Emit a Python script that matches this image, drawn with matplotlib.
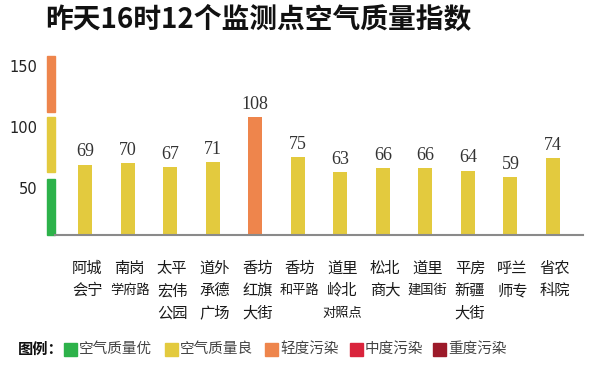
import matplotlib.pyplot as plt
import matplotlib.transforms as mtransforms
from matplotlib.patches import Rectangle

plt.rcParams['font.family'] = ['Noto Sans CJK SC', 'DejaVu Sans']

# data
stations = [
    ["阿城", "会宁"], ["南岗", "学府路"], ["太平", "宏伟", "公园"],
    ["道外", "承德", "广场"], ["香坊", "红旗", "大街"], ["香坊", "和平路"],
    ["道里", "岭北", "对照点"], ["松北", "商大"], ["道里", "建国街"],
    ["平房", "新疆", "大街"], ["呼兰", "师专"], ["省农", "科院"],
]
aqi = [69, 70, 67, 71, 108, 75, 63, 66, 66, 64, 59, 74]
bar_colors = ["#e3ca3e"] * 4 + ["#ee854c"] + ["#e3ca3e"] * 7

bands = [(11, 57, "#2db24a"), (63, 108, "#e3ca3e"), (112, 158, "#ee854c")]
yticks = [50, 100, 150]

legend_labels = ["空气质量优", "空气质量良", "轻度污染", "中度污染", "重度污染"]
legend_colors = ["#2db24a", "#e3ca3e", "#ee854c", "#d9243c", "#9c1a2a"]
legend_x = [64, 165, 265, 350, 433]

W, H = 600, 378
fig = plt.figure(figsize=(6, 3.78), dpi=100)
ax = fig.add_axes([55 / W, (H - 235) / H, 528 / W, 181 / H])

x = list(range(len(aqi)))
ax.bar(x, aqi, width=0.33, color=bar_colors, zorder=2)
ax.set_xlim(-0.705, 11.705)
ax.set_ylim(11, 160)

for i, v in enumerate(aqi):
    ax.annotate(str(v), (i, v), xytext=(0, 3), textcoords="offset points",
                ha="center", va="bottom", fontsize=13, color="#333333",
                family="Liberation Serif")

# colored scale bands on the left
trans = mtransforms.blended_transform_factory(ax.transAxes, ax.transData)
for lo, hi, c in bands:
    ax.add_patch(Rectangle((-8 / 528, lo), 8 / 528, hi - lo, color=c,
                           transform=trans, clip_on=False))

ax.set_yticks(yticks)
ax.set_yticklabels([str(t) for t in yticks], fontsize=10.5, color="#222222",
                   family="DejaVu Sans")
ax.tick_params(axis="y", length=0, pad=13)
ax.set_xticks([])
for s in ["left", "right", "top"]:
    ax.spines[s].set_visible(False)
ax.spines["bottom"].set_color("#8a8a8a")
ax.spines["bottom"].set_linewidth(1.5)

# category labels (multi-line, below axis)
xtrans = ax.get_xaxis_transform()
for i, lines in enumerate(stations):
    for k, line in enumerate(lines):
        fs = 11 if len(line) == 2 else 9.5
        ax.text(i + 0.05, -(33 + 22.5 * k) / 181, line, transform=xtrans,
                ha="center", va="center", fontsize=fs, color="#1a1a1a",
                fontweight="medium")

fig.text(0.5 * (52 + 465) / W, 1 - 20 / H, "昨天16时12个监测点空气质量指数",
         ha="center", va="center", fontsize=20, fontweight="heavy", color="#111111")

# legend
ly = 1 - 349 / H
fig.text(18 / W, ly, "图例：", ha="left", va="center", fontsize=11,
         fontweight="bold", color="#111111")
for lx, lab, c in zip(legend_x, legend_labels, legend_colors):
    fig.patches.append(Rectangle((lx / W, ly - 6.5 / H), 13 / W, 13 / H,
                                 color=c, transform=fig.transFigure))
    fig.text((lx + 15) / W, ly, lab, ha="left", va="center", fontsize=10.5,
             color="#444444", fontweight="light")

fig.savefig("out.png", dpi=100, facecolor="white")
